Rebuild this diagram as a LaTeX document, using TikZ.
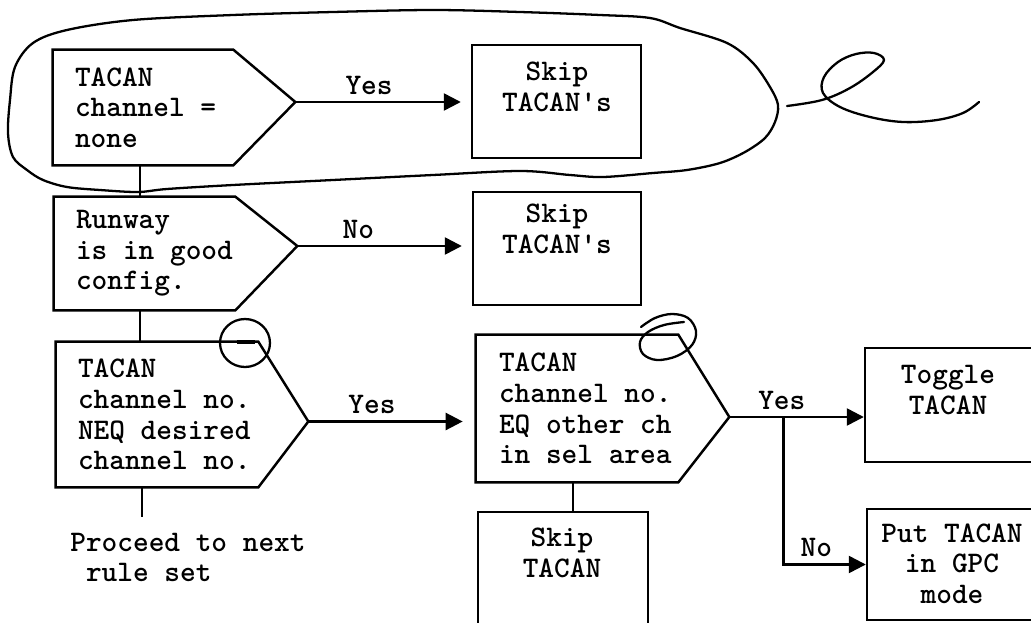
\documentclass[tikz,border=0pt]{standalone}
\usepackage{fontspec}
\usetikzlibrary{arrows.meta,calc}
\newcommand{\flowfont}{\ttfamily\bfseries\fontsize{17}{17.4}\selectfont}

\begin{document}
\begin{tikzpicture}[x=0.02cm, y=-0.02cm, >={Triangle[length=0.34cm,width=0.34cm]}]

\tikzset{
  box/.style={rectangle, draw, line width=1.4pt, inner sep=0pt},
  cond/.style={rectangle, inner sep=0pt},
  txt/.style={font=\flowfont, align=center, inner sep=0pt},
  condtxt/.style={font=\flowfont, align=left, anchor=west, inner sep=0pt},
  lbl/.style={font=\flowfont, inner sep=0pt, above=3.5pt},
  arrow/.style={->, line width=1.4pt},
  link/.style={line width=1.4pt},
  hand/.style={line width=1.3pt, line cap=round, line join=round}
}

\useasboundingbox (0,0) rectangle (1031,622);
\clip (0,0) rectangle (1031,622);

% ==========================
% Left column: decisions
% ==========================
\node[cond, minimum width=3.6cm, minimum height=2.3cm] (cond1) at (143,107.5) {};
\node[condtxt] (cond1txt) at ($(cond1.west)+(22,0)$) {TACAN\\channel =\\none};
\coordinate (c1tip) at ($(cond1.east)+(62,-5.5)$);

\node[cond, minimum width=3.62cm, minimum height=2.26cm] (cond2) at (144.5,253.5) {};
\node[condtxt] (cond2txt) at ($(cond2.west)+(22,0)$) {Runway\\is in good\\config.};
\coordinate (c2tip) at ($(cond2.east)+(62,-7.5)$);

\node[cond, minimum width=4.04cm, minimum height=2.9cm] (cond3) at (157,414.5) {};
\node[condtxt] (cond3txt) at ($(cond3.west)+(22,0)$) {TACAN\\channel no.\\NEQ desired\\channel no.};
\coordinate (c3tip) at ($(cond3.east)+(50,7)$);

\foreach \c in {1,2,3}
  \draw[link] (cond\c.north west) -- (cond\c.north east) -- (c\c tip)
    -- (cond\c.south east) -- (cond\c.south west) -- cycle;

% ==========================
% Middle column
% ==========================
\node[box, minimum width=3.38cm, minimum height=2.26cm] (skip1) at (556.5,101.5) {};
\node[txt] (skip1txt) at (557,87) {Skip\\TACAN's};

\node[box, minimum width=3.36cm, minimum height=2.26cm] (skip2) at (557,248.5) {};
\node[txt] (skip2txt) at (557,229) {Skip\\TACAN's};

\node[cond, minimum width=4.04cm, minimum height=2.94cm] (cond4) at (577,408.5) {};
\node[condtxt] (cond4txt) at ($(cond4.west)+(23,0)$) {TACAN\\channel no.\\EQ other ch\\in sel area};
\coordinate (c4tip) at ($(cond4.east)+(51,8.5)$);
\draw[link] (cond4.north west) -- (cond4.north east) -- (c4tip)
  -- (cond4.south east) -- (cond4.south west) -- cycle;

\node[box, minimum width=3.4cm, minimum height=2.56cm] (skipT) at (563,576) {};
\node[txt] (skipTtxt) at (562,553) {Skip\\TACAN};

% ==========================
% Right column
% ==========================
\node[box, minimum width=3.6cm, minimum height=2.28cm] (toggle) at (955,405) {};
\node[txt] (toggletxt) at (948,390) {Toggle\\TACAN};

\node[box, minimum width=3.56cm, minimum height=2.22cm] (put) at (956,564.5) {};
\node[txt] (puttxt) at (952,563.5) {Put TACAN\\in GPC\\mode};

% Connectors
\draw[arrow, shorten >=0.2cm] (c1tip) -- (c1tip -| skip1.west) node[lbl, pos=0.42] {Yes};
\draw[arrow, shorten >=0.2cm] (c2tip) -- (c2tip -| skip2.west) node[lbl, pos=0.35] {No};
\draw[arrow, shorten >=0.26cm] (c3tip) -- (c3tip -| cond4.west) node[lbl, pos=0.38] {Yes};
\draw[arrow] (c4tip) -- (c4tip -| toggle.west) node[lbl, pos=0.39] {Yes};
\coordinate (split) at ($(c4tip)+(54,0)$);
\draw[arrow] (split) |- (put.west) node[lbl, pos=0.7] {No};

\coordinate (spine) at (140,0);
\draw[link] (cond1.south -| spine) -- (cond2.north -| spine);
\draw[link] (cond2.south -| spine) -- (cond3.north -| spine);
\coordinate (c3end) at (142,517);
\draw[link] (cond3.south -| c3end) -- (c3end);
\coordinate (c4foot) at ($(cond4.south)+(-4,0)$);
\draw[link] (c4foot) -- (c4foot |- skipT.north);

\node[condtxt] (proceed) at (70,557.5) {Proceed to next\\\phantom{x}rule set};

% Hand-drawn marks
\draw[hand] plot[smooth cycle, tension=0.55] coordinates {
  (10,100) (15,67) (33,43) (67,30) (133,20) (233,15) (333,12) (433,10)
  (520,12) (600,15) (650,18) (680,28) (727,43) (753,63) (770,87) (778,105)
  (775,122) (765,138) (745,152) (720,163) (687,170) (653,173) (603,177)
  (570,175) (520,171) (433,175) (333,180) (233,185) (167,189) (138,192)
  (100,190) (67,187) (43,180) (27,170) (13,157) (8,133)};
\draw[hand] plot[smooth, tension=0.6] coordinates {
  (787,106) (822,100) (850,88) (873,72) (884,60) (874,53) (856,54)
  (838,62) (824,77) (823,93) (840,107) (870,117) (903,122) (937,120)
  (963,113) (979,102)};
\draw[hand] (245,343) ellipse [x radius=0.5cm, y radius=0.48cm];
\draw[line width=2.6pt] (237,342) -- (255,342);
\draw[hand] plot[smooth, tension=0.6] coordinates {
  (641,327) (655,318) (672,314) (688,318) (696,331) (692,345) (677,356)
  (657,360) (643,354) (640,342) (648,332) (664,325) (684,322)};

\end{tikzpicture}
\end{document}
